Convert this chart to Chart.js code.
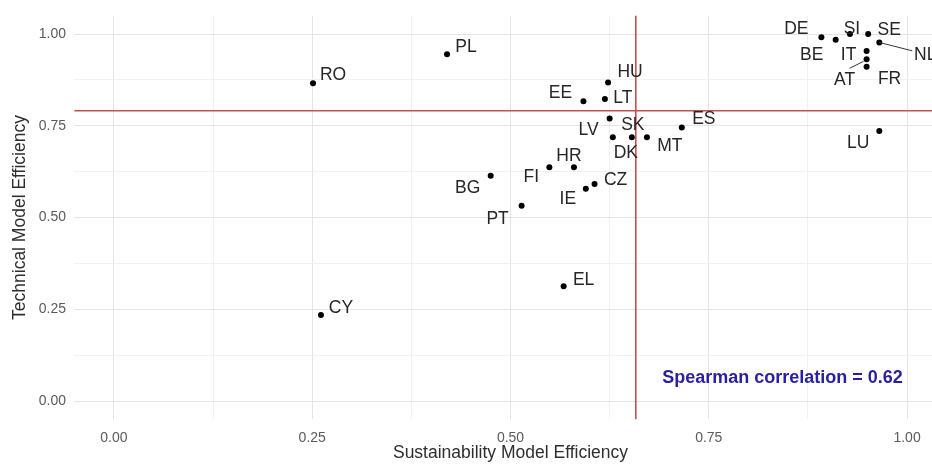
<!DOCTYPE html>
<html>
<head>
<meta charset="utf-8">
<script src="https://cdn.jsdelivr.net/npm/chart.js@4/dist/chart.umd.min.js"></script>
<style>
  html, body { margin: 0; padding: 0; background: #ffffff; overflow: hidden; }
  #wrap { position: relative; width: 960px; height: 464px; }
</style>
</head>
<body>
<div id="wrap"><canvas id="chart" width="960" height="464"></canvas></div>
<script>
// EU member states, sustainability vs technical efficiency scores
const countries = ['DE','BE','SI','SE','NL','IT','AT','FR','LU','HU','EE','LT','LV','SK','DK','MT','ES','HR','FI','CZ','IE','BG','PT','RO','PL','CY','EL'];
const sustainability = [0.892,0.910,0.928,0.951,0.965,0.949,0.949,0.949,0.965,0.623,0.592,0.619,0.625,0.653,0.629,0.672,0.716,0.580,0.549,0.606,0.595,0.475,0.514,0.251,0.420,0.261,0.567];
const technical = [0.991,0.984,1.000,1.000,0.977,0.954,0.931,0.911,0.736,0.868,0.817,0.823,0.770,0.719,0.719,0.719,0.745,0.637,0.637,0.591,0.578,0.614,0.532,0.866,0.945,0.234,0.313];

// reference lines (medians) and axis ticks
const medianSustainability = 0.658;
const medianTechnical = 0.791;
const majorTicks = [0, 0.25, 0.5, 0.75, 1];
const minorTicks = [0.125, 0.375, 0.625, 0.875];
const correlationText = 'Spearman correlation = 0.62';
const correlationAt = { x: 0.843, y: 0.062 };

// label placement: centre offset from the point (px); optional leader segment
const labelNudge = {
  DE:[-25,-8], BE:[-24,15], SI:[2,-5], SE:[21,-4], NL:[46,13,[0,0,33,8.4]],
  IT:[-18,4], AT:[-22,21,[-3,2,-17,9]], FR:[23,13], LU:[-21,12],
  HU:[22,-10], EE:[-23,-8], LT:[18,-1], LV:[-21,12], SK:[1,-12], DK:[13,16],
  MT:[23,9], ES:[22,-8], HR:[-5,-11], FI:[-18,10], CZ:[21,-4], IE:[-18,10],
  BG:[-23,13], PT:[-24,13], RO:[20,-8], PL:[19,-7], CY:[20,-7], EL:[20,-6]
};

const allTicks = majorTicks.concat(minorTicks).sort((a, b) => a - b);
const isMajor = v => majorTicks.some(m => Math.abs(m - v) < 1e-9);
const gridColor = ctx => (ctx.tick && isMajor(ctx.tick.value)) ? '#e4e4e4' : '#f1f1f1';

const points = countries.map((c, i) => ({ x: sustainability[i], y: technical[i], label: c }));

const medianLines = {
  id: 'medianLines',
  beforeDatasetsDraw(chart) {
    const { ctx, chartArea, scales } = chart;
    const px = scales.x.getPixelForValue(medianSustainability);
    const py = scales.y.getPixelForValue(medianTechnical);
    ctx.save();
    ctx.strokeStyle = '#c8504e';
    ctx.lineWidth = 1.6;
    ctx.beginPath();
    ctx.moveTo(chartArea.left, py); ctx.lineTo(chartArea.right, py);
    ctx.moveTo(px, chartArea.top); ctx.lineTo(px, chartArea.bottom);
    ctx.stroke();
    ctx.restore();
  }
};

const pointLabels = {
  id: 'pointLabels',
  afterDatasetsDraw(chart) {
    const { ctx, scales } = chart;
    ctx.save();
    ctx.font = '17.5px "Liberation Sans", Arial, sans-serif';
    ctx.fillStyle = '#262626';
    ctx.textAlign = 'center';
    ctx.textBaseline = 'middle';
    points.forEach(p => {
      const px = scales.x.getPixelForValue(p.x);
      const py = scales.y.getPixelForValue(p.y);
      const n = labelNudge[p.label] || [0, -12];
      if (n[2]) {
        const s = n[2];
        ctx.strokeStyle = '#333333';
        ctx.lineWidth = 1;
        ctx.beginPath();
        ctx.moveTo(px + s[0], py + s[1]);
        ctx.lineTo(px + s[2], py + s[3]);
        ctx.stroke();
      }
      ctx.fillText(p.label, px + n[0], py + n[1]);
    });
    // correlation note
    ctx.font = 'bold 18px "Liberation Sans", Arial, sans-serif';
    ctx.fillStyle = '#2a1fa0';
    ctx.fillText(correlationText,
      scales.x.getPixelForValue(correlationAt.x),
      scales.y.getPixelForValue(correlationAt.y));
    ctx.restore();
  }
};

new Chart(document.getElementById('chart'), {
  type: 'scatter',
  data: {
    datasets: [{
      data: points,
      backgroundColor: '#000000',
      borderWidth: 0,
      pointRadius: 3,
      pointHoverRadius: 3
    }]
  },
  options: {
    responsive: false,
    animation: false,
    devicePixelRatio: 1,
    layout: { padding: { left: 0, top: 15.65, right: 13.3, bottom: 0 } },
    plugins: { legend: { display: false }, tooltip: { enabled: false } },
    scales: {
      x: {
        type: 'linear',
        min: -0.05, max: 1.05,
        afterBuildTicks: s => { s.ticks = allTicks.map(v => ({ value: v })); },
        afterFit: s => { s.height = 44.65; s.paddingLeft = 0; s.paddingRight = 0; },
        border: { display: false },
        grid: { color: gridColor, lineWidth: 1, drawTicks: false },
        ticks: {
          autoSkip: false, maxRotation: 0, padding: 10,
          color: '#5a5a5a',
          font: { family: '"Liberation Sans", Arial, sans-serif', size: 14 },
          callback: v => isMajor(v) ? v.toFixed(2) : ''
        },
        title: {
          display: true, text: 'Sustainability Model Efficiency',
          color: '#2e2e2e',
          font: { family: '"Liberation Sans", Arial, sans-serif', size: 17.5 },
          padding: { top: 0, bottom: 0.5 }
        }
      },
      y: {
        type: 'linear',
        min: -0.05, max: 1.05,
        afterBuildTicks: s => { s.ticks = allTicks.map(v => ({ value: v })); },
        afterFit: s => { s.width = 74.3; s.paddingTop = 0; s.paddingBottom = 0; },
        border: { display: false },
        grid: { color: gridColor, lineWidth: 1, drawTicks: false },
        ticks: {
          autoSkip: false, padding: 8.3,
          color: '#5a5a5a',
          font: { family: '"Liberation Sans", Arial, sans-serif', size: 14 },
          callback: v => isMajor(v) ? v.toFixed(2) : ''
        },
        title: {
          display: true, text: 'Technical Model Efficiency',
          color: '#2e2e2e',
          font: { family: '"Liberation Sans", Arial, sans-serif', size: 17.5 },
          padding: { top: 9.5, bottom: 0 }
        }
      }
    }
  },
  plugins: [medianLines, pointLabels]
});
</script>
</body>
</html>
